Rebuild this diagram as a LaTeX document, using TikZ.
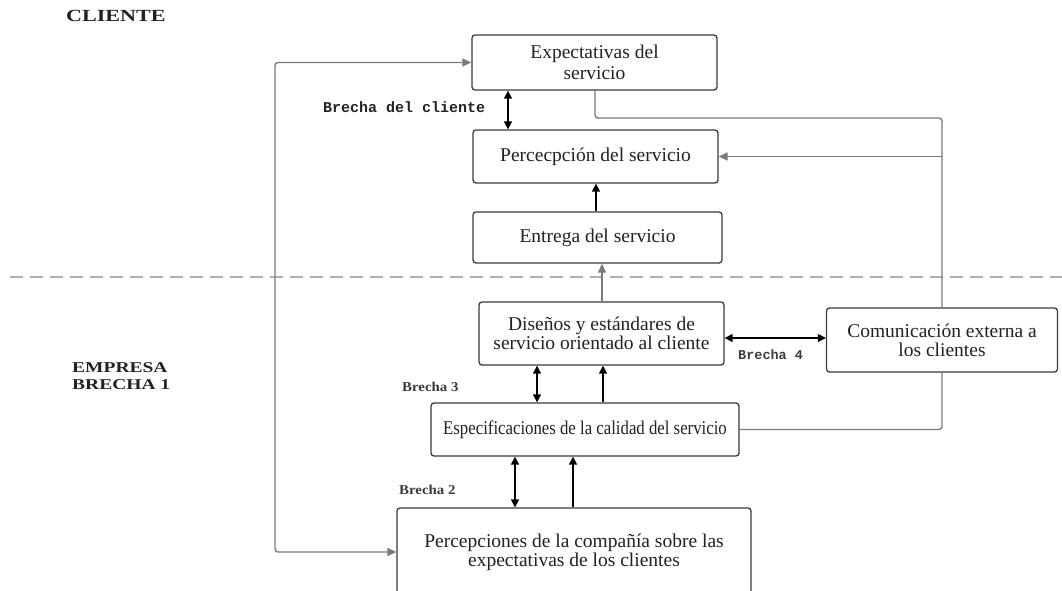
\documentclass[tikz,border=0pt]{standalone}
\usepackage{fontspec}
\setmainfont{Liberation Serif}
\newfontfamily\narrowfont[FakeStretch=0.86]{Liberation Serif}
\newfontfamily\widefont[FakeStretch=1.3]{Liberation Serif}
\newfontfamily\midfont[FakeStretch=1.1]{Liberation Serif}
\newfontfamily\monofnt{Liberation Mono}
\usetikzlibrary{arrows.meta}
\definecolor{boxc}{HTML}{3A3A3A}
\definecolor{linec}{HTML}{7A7A7A}
\definecolor{dashc}{HTML}{B0B0B0}
\definecolor{txtc}{HTML}{222222}
\tikzset{
  box/.style={draw=boxc, line width=1.3pt, rounded corners=3pt, fill=white,
    align=center, inner sep=0pt, text=txtc,
    font=\fontsize{19.5}{19}\selectfont},
  blk/.style={draw=black, line width=1.4pt, -{Triangle[length=8pt,width=8pt]}},
  blkd/.style={draw=black, line width=1.4pt, {Triangle[length=8pt,width=8pt]}-{Triangle[length=8pt,width=8pt]}},
  gry/.style={draw=linec, line width=1.4pt, -{Triangle[length=9pt,width=8pt]}},
  gryd/.style={draw=linec, line width=1.4pt, rounded corners=3pt, {Triangle[length=9pt,width=8pt]}-{Triangle[length=9pt,width=8pt]}},
  gryl/.style={draw=linec, line width=1.4pt, rounded corners=3pt},
  sectlabel/.style={font=\widefont\bfseries\fontsize{15}{17}\selectfont, text=txtc, align=left, inner sep=0pt},
  gaplabel/.style={font=\midfont\bfseries\fontsize{13.5}{15}\selectfont, text=boxc, inner sep=0pt, anchor=west},
  monolabel/.style={font=\monofnt\bfseries\fontsize{15}{17}\selectfont, text=txtc, inner sep=0pt, anchor=west},
}
\begin{document}
\begin{tikzpicture}[x=1pt,y=-1pt]
\useasboundingbox (0,0) rectangle (1062,590);
\clip (0,0) rectangle (1062,590);

% dashed separator
\draw[dashc, line width=1.5pt, dash pattern=on 13pt off 7pt] (10,277) -- (1062,277);

% nodes
\node[box, minimum width=245pt, minimum height=55pt] (exp) at (594.5,62.5)
  {Expectativas del\\[2pt] servicio};
\node[box, minimum width=245pt, minimum height=53pt] (perc) at (595.5,156.5)
  {Percecpción del servicio};
\node[box, minimum width=249pt, minimum height=51pt] (ent) at (597.5,237.5)
  {Entrega del servicio};
\node[box, minimum width=245pt, minimum height=63pt] (dis) at (601.5,333.5)
  {Diseños y estándares de\\ servicio orientado al cliente};
\node[box, minimum width=231pt, minimum height=64pt] (com) at (942,340)
  {Comunicación externa a\\ los clientes};
\node[box, minimum width=308pt, minimum height=53pt, font=\narrowfont\fontsize{19.5}{19}\selectfont] (esp) at (585,429.5)
  {Especificaciones de la calidad del servicio};
\node[box, minimum width=354pt, minimum height=88pt] (pcomp) at (574,552)
  {Percepciones de la compañía sobre las\\ expectativas de los clientes};

% labels
\node[sectlabel, font=\widefont\bfseries\fontsize{17}{19}\selectfont, anchor=west] (lcli) at (66,16) {CLIENTE};
\node[sectlabel, anchor=west] (lemp) at (72,376) {EMPRESA\\ BRECHA 1};
\node[monolabel] (lbc) at (323,107) {Brecha del cliente};
\node[monolabel, font=\monofnt\bfseries\fontsize{13.5}{15}\selectfont, text=boxc] (lb4) at (738,355) {Brecha 4};
\node[gaplabel] (lb3) at (402,387) {Brecha 3};
\node[gaplabel] (lb2) at (399,490) {Brecha 2};

% helper x-positions
\coordinate (c1) at (508,0);
\coordinate (c2) at (596,0);
\coordinate (c3) at (602,0);
\coordinate (c4) at (537,0);
\coordinate (c5) at (603,0);
\coordinate (c6) at (515,0);
\coordinate (c7) at (573,0);
\coordinate (lx) at (275,0);
\coordinate (ex) at (595,0);
\coordinate (ey) at (0,118);
\coordinate (dy) at (0,338);

% black connectors
\draw[blkd] (exp.south -| c1) -- (perc.north -| c1);
\draw[blk] (ent.north -| c2) -- (perc.south -| c2);
\draw[blkd] (dis.east |- dy) -- (com.west |- dy);
\draw[blkd] (esp.north -| c4) -- (dis.south -| c4);
\draw[blk] (esp.north -| c5) -- (dis.south -| c5);
\draw[blkd] (pcomp.north -| c6) -- (esp.south -| c6);
\draw[blk] (pcomp.north -| c7) -- (esp.south -| c7);

% gray connectors
\draw[gry] (dis.north -| c3) -- (ent.south -| c3);
\draw[gryd] (exp.west) -| (lx |- pcomp.west) -- (pcomp.west);
\draw[gryl] (exp.south -| ex) |- (com.north |- ey) -- (com.north);
\draw[gryl] (com.south) |- (esp.east);
\draw[gry] (com.north |- perc.east) -- (perc.east);
\end{tikzpicture}
\end{document}
